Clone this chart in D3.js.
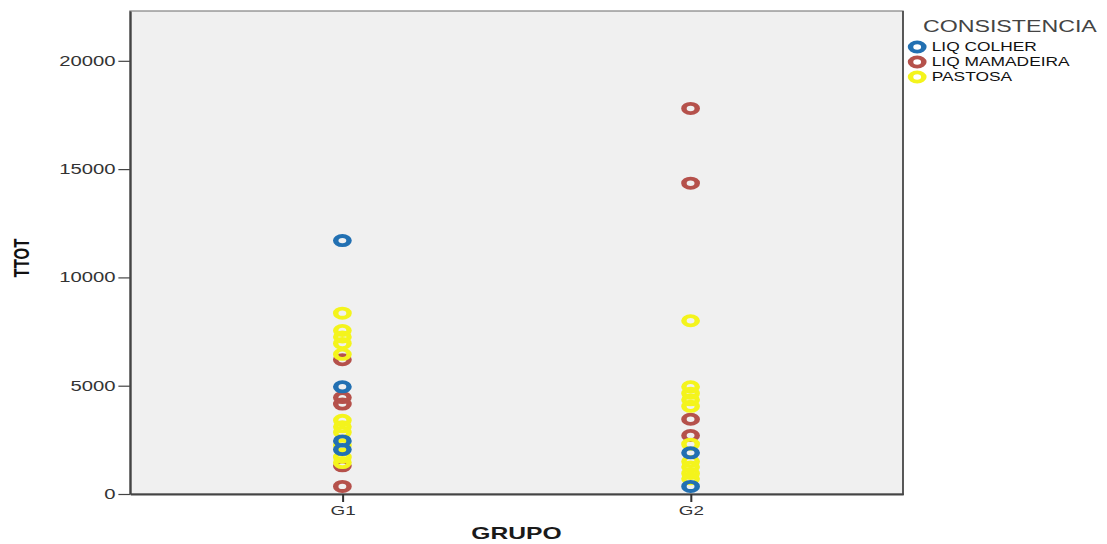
<!DOCTYPE html>
<html>
<head>
<meta charset="utf-8">
<script src="https://d3js.org/d3.v7.min.js"></script>
<style>
  html, body { margin: 0; padding: 0; background: #fff; }
  svg { display: block; }
  text { font-family: "Liberation Sans", Arial, sans-serif; }
</style>
</head>
<body>
<div id="chart"></div>
<script>
// Categories and series
const groups = ["G1", "G2"];
const consistencies = ["LIQ COLHER", "LIQ MAMADEIRA", "PASTOSA"];
const yTicks = [0, 5000, 10000, 15000, 20000];

// TTOT values per group, one list per consistency
const liqColherG1 = [11700, 4950, 2450, 2050];
const liqMamadeiraG1 = [6200, 4450, 4150, 1300, 350];
const pastosaG1 = [8350, 7550, 7250, 6950, 6450, 3400, 3100, 2850, 2250, 1700, 1450];

const liqColherG2 = [1900, 350];
const liqMamadeiraG2 = [17800, 14350, 3450, 2700];
const pastosaG2 = [8000, 4950, 4650, 4350, 4050, 2300, 1500, 1250, 950, 700];

const colors = {
  "LIQ COLHER": "#2270b2",
  "LIQ MAMADEIRA": "#b5514c",
  "PASTOSA": "#f4f41e"
};

// Build the point table; draw order: mamadeira, pastosa, colher
const seriesByGroup = {
  G1: { "LIQ COLHER": liqColherG1, "LIQ MAMADEIRA": liqMamadeiraG1, "PASTOSA": pastosaG1 },
  G2: { "LIQ COLHER": liqColherG2, "LIQ MAMADEIRA": liqMamadeiraG2, "PASTOSA": pastosaG2 }
};
const drawOrder = ["LIQ MAMADEIRA", "PASTOSA", "LIQ COLHER"];
const points = [];
drawOrder.forEach(c => groups.forEach(g => seriesByGroup[g][c].forEach(v => points.push({ grupo: g, cons: c, ttot: v }))));

// The drawing is laid out in a narrower coordinate system and stretched to the window width
const W = 1107, H = 544;
const VW = 764;
const plot = { left: 89.7, right: 623.2, top: 11, bottom: 494 };

const svg = d3.select("#chart").append("svg")
  .attr("width", W).attr("height", H)
  .attr("viewBox", `0 0 ${VW} ${H}`)
  .attr("preserveAspectRatio", "none");

const defs = svg.append("defs");
defs.append("filter").attr("id", "soft")
  .attr("x", "-50%").attr("y", "-50%").attr("width", "200%").attr("height", "200%")
  .append("feGaussianBlur").attr("stdDeviation", 0.5);

const x = d3.scalePoint().domain(groups).range([plot.left, plot.right]).padding(0.61);
const y = d3.scaleLinear().domain([0, 22300]).range([plot.bottom, plot.top]);

// Plot area
svg.append("rect")
  .attr("x", plot.left).attr("y", plot.top)
  .attr("width", plot.right - plot.left).attr("height", plot.bottom - plot.top)
  .attr("fill", "#f0f0f0")
  .attr("stroke", "#6a6a6a").attr("stroke-width", 1);
// Darker right and bottom edges
svg.append("line")
  .attr("x1", plot.right).attr("x2", plot.right).attr("y1", plot.top).attr("y2", plot.bottom + 1)
  .attr("stroke", "#555").attr("stroke-width", 1.3);

// Y axis
const yAxis = svg.append("g")
  .attr("transform", `translate(${plot.left},0)`)
  .call(d3.axisLeft(y).tickValues(yTicks).tickSize(8).tickSizeOuter(0).tickPadding(2).tickFormat(d3.format("d")));
yAxis.select(".domain").attr("stroke", "#444").attr("stroke-width", 1.4);
yAxis.selectAll(".tick line").attr("stroke", "#444").attr("stroke-width", 1.2);
yAxis.selectAll(".tick text")
  .attr("font-family", "'Liberation Sans', Arial, sans-serif")
  .attr("font-size", 14).attr("fill", "#333");

// X axis
const xAxis = svg.append("g")
  .attr("transform", `translate(0,${plot.bottom})`)
  .call(d3.axisBottom(x).tickSize(8).tickSizeOuter(0).tickPadding(4));
xAxis.select(".domain").attr("stroke", "#444").attr("stroke-width", 2);
xAxis.selectAll(".tick line").attr("stroke", "#333").attr("stroke-width", 1.4);
xAxis.selectAll(".tick text")
  .attr("font-family", "'Liberation Sans', Arial, sans-serif")
  .attr("font-size", 13).attr("fill", "#333");

// Axis titles
svg.append("text")
  .attr("transform", `translate(14.5,258) rotate(-90)`)
  .attr("text-anchor", "middle").attr("dy", "0.35em")
  .attr("font-weight", "bold").attr("font-size", 15).attr("fill", "#111")
  .text("TTOT");
svg.append("text")
  .attr("x", (plot.left + plot.right) / 2).attr("y", 539)
  .attr("text-anchor", "middle")
  .attr("font-weight", "bold").attr("font-size", 17).attr("fill", "#1a1a1a")
  .text("GRUPO");

// Points
svg.append("g").attr("filter", "url(#soft)")
  .selectAll("circle").data(points).join("circle")
  .attr("cx", d => x(d.grupo))
  .attr("cy", d => y(d.ttot))
  .attr("r", 4.6)
  .attr("fill", "none")
  .attr("stroke", d => colors[d.cons])
  .attr("stroke-width", 3.8);

// Legend
const legend = svg.append("g");
legend.append("text")
  .attr("x", 637).attr("y", 32)
  .attr("font-size", 16).attr("fill", "#444")
  .text("CONSISTENCIA");
const items = legend.selectAll("g.item").data(consistencies).join("g")
  .attr("class", "item")
  .attr("transform", (d, i) => `translate(633,${47 + i * 15})`);
items.append("circle")
  .attr("r", 4.6).attr("fill", "none")
  .attr("stroke", d => colors[d]).attr("stroke-width", 3.8)
  .attr("filter", "url(#soft)");
items.append("text")
  .attr("x", 10).attr("dy", "0.36em")
  .attr("font-size", 12).attr("fill", "#111")
  .text(d => d);
</script>
</body>
</html>
